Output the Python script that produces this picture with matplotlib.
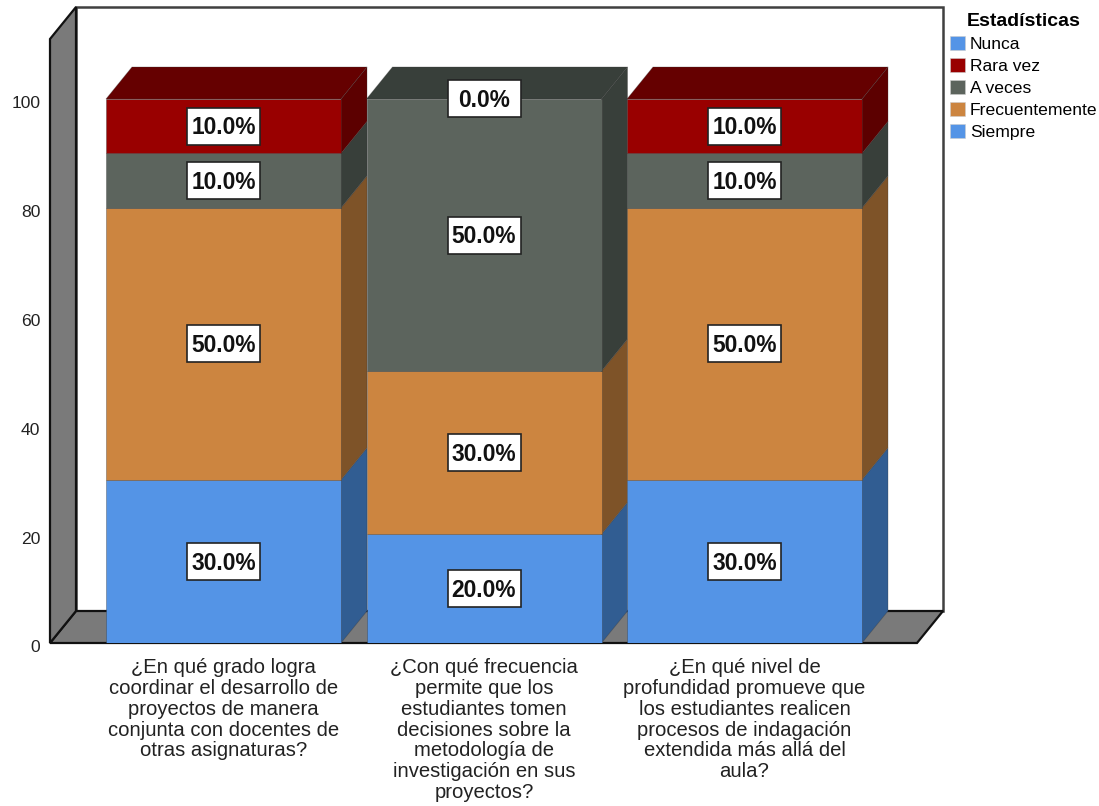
import matplotlib
matplotlib.use("Agg")
import matplotlib.pyplot as plt
from matplotlib.patches import Polygon, Rectangle
from matplotlib.transforms import ScaledTranslation

plt.rcParams['font.family'] = ['Liberation Sans', 'DejaVu Sans']

preguntas = [
    "¿En qué grado logra\ncoordinar el desarrollo de\nproyectos de manera\nconjunta con docentes de\notras asignaturas?",
    "¿Con qué frecuencia\npermite que los\nestudiantes tomen\ndecisiones sobre la\nmetodología de\ninvestigación en sus\nproyectos?",
    "¿En qué nivel de\nprofundidad promueve que\nlos estudiantes realicen\nprocesos de indagación\nextendida más allá del\naula?",
]
# apilado de abajo hacia arriba
siempre = [30, 20, 30]
frecuentemente = [50, 30, 50]
a_veces = [10, 50, 10]
rara_vez = [10, 0, 10]
y_ticks = [0, 20, 40, 60, 80, 100]

series = [
    ("Siempre", siempre, "#5494E6", "#315D92", "#315D92"),
    ("Frecuentemente", frecuentemente, "#CC8540", "#7E5328", "#7E5328"),
    ("A veces", a_veces, "#5C645D", "#383F3A", "#383F3A"),
    ("Rara vez", rara_vez, "#990000", "#5C0000", "#650000"),
]
orden_leyenda = ["Nunca", "Rara vez", "A veces", "Frecuentemente", "Siempre"]
colores_leyenda = ["#5494E6", "#990000", "#5C645D", "#CC8540", "#5494E6"]

W, H = 1099, 806
# plano frontal de la caja, en pixeles
x0, x1, y_base, px_por_unidad, px_por_cat = 50, 917, 643, 5.44, 260.5
centro0 = 223.5
y_top = 39

fig = plt.figure(figsize=(W / 100, H / 100), dpi=100)
ax = fig.add_axes([x0 / W, 1 - y_base / H, (x1 - x0) / W, (y_base - y_top) / H])
ax.set_xlim((x0 - centro0) / px_por_cat, (x1 - centro0) / px_por_cat)
ax.set_ylim(0, (y_base - y_top) / px_por_unidad)

dx = 26 / px_por_cat
dy = 32 / px_por_unidad
ancho = 235 / px_por_cat
xa, xb = ax.get_xlim()
ya, yb = ax.get_ylim()

for s in ax.spines.values():
    s.set_visible(False)


def poly(puntos, cara, borde="none", lw=0.0, z=1):
    ax.add_patch(Polygon(puntos, closed=True, facecolor=cara, edgecolor=borde,
                         linewidth=lw, clip_on=False, zorder=z, joinstyle="miter"))


# pared de fondo, suelo y pared izquierda
poly([(xa + dx, ya + dy), (xb + dx, ya + dy), (xb + dx, yb + dy), (xa + dx, yb + dy)],
     "white", "#404040", 1.8, 1)
poly([(xa, ya), (xb, ya), (xb + dx, ya + dy), (xa + dx, ya + dy)], "#7A7A7A", "#111111", 1.6, 2)
poly([(xa, ya), (xa + dx, ya + dy), (xa + dx, yb + dy), (xa, yb)], "#7A7A7A", "#111111", 1.6, 2)

# barras apiladas
z = 3
for i in range(len(preguntas)):
    izq = i - ancho / 2
    der = i + ancho / 2
    base = 0
    ultima = None
    for nombre, valores, cara, lado, tapa in series:
        v = valores[i]
        if v > 0:
            poly([(der, base), (der + dx, base + dy), (der + dx, base + v + dy), (der, base + v)],
                 lado, "#33333355", 0.6, z)
            ax.bar(i, v, ancho, bottom=base, color=cara, edgecolor="#33333366", linewidth=0.6,
                   zorder=z + 1)
            ultima = tapa
        base += v
    poly([(izq, base), (der, base), (der + dx, base + dy), (izq + dx, base + dy)],
         ultima, "#33333355", 0.6, z + 1)
    z += 2

# etiquetas de porcentaje
caja_w = 73 / px_por_cat
caja_h = 37 / px_por_unidad
for i in range(len(preguntas)):
    base = 0
    for nombre, valores, cara, lado, tapa in series:
        v = valores[i]
        yc = base + v / 2
        ax.add_patch(Rectangle((i - caja_w / 2, yc - caja_h / 2), caja_w, caja_h,
                               facecolor="white", edgecolor="#222222", linewidth=1.2, zorder=20))
        ax.text(i, yc - 0.3, f"{v:.1f}%", ha="center", va="center", fontsize=16.4,
                fontweight="bold", color="#111111", zorder=21)
        base += v

ax.set_yticks(y_ticks)
ax.set_xticks(range(len(preguntas)))
ax.set_xticklabels(preguntas, fontsize=14.6, color="#222222", linespacing=1.12, ha="center")
ax.tick_params(axis="x", length=0, pad=11)
ax.tick_params(axis="y", length=0, pad=7, labelsize=12.6, labelcolor="#222222")
# los numeros del eje van un poco mas abajo que la marca
bajar = ScaledTranslation(0, -2.5 / 72, fig.dpi_scale_trans)
for t in ax.get_yticklabels():
    t.set_transform(t.get_transform() + bajar)

manejadores = [Rectangle((0, 0), 1, 1, facecolor=c, edgecolor="#cccccc", linewidth=0.4)
               for c in colores_leyenda]
ley = fig.legend(manejadores, orden_leyenda, title="Estadísticas", frameon=False,
                 loc="upper left", bbox_to_anchor=(946 / W, 1 - 10 / H), fontsize=12.6,
                 handlelength=0.86, handleheight=0.86, handletextpad=0.3, labelspacing=0.33,
                 borderpad=0.2, borderaxespad=0, alignment="center",
                 title_fontproperties={"weight": "bold", "size": 14})

fig.savefig("out.png", dpi=100, facecolor="white")
